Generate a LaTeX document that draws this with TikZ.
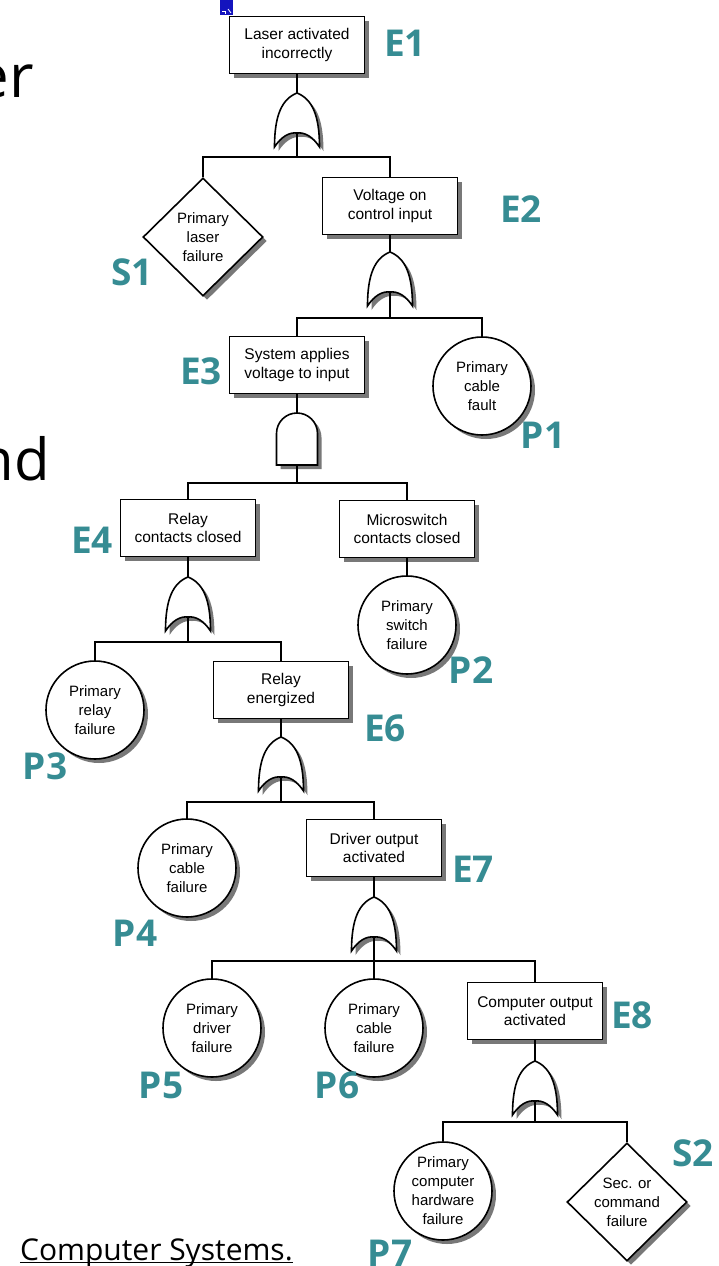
\documentclass[tikz,border=0pt]{standalone}
\usepackage{fontspec}
\setmainfont{Liberation Sans}
\newfontfamily\slidefont{Open Sans}
\usetikzlibrary{shapes.geometric,shadows}
\definecolor{tagteal}{RGB}{54,140,147}
\definecolor{iconblue}{RGB}{20,20,190}

\tikzset{
  castshadow/.style={drop shadow={shadow xshift=4pt,shadow yshift=-4pt,fill=black!75,opacity=0.7}},
  event/.style={draw,line width=1.6pt,fill=white,minimum width=135pt,minimum height=57pt,
    inner sep=2pt,align=center,font=\fontsize{15.5}{18.5}\selectfont,castshadow},
  basic/.style={circle,draw,line width=1.6pt,fill=white,minimum size=98pt,inner sep=0pt,
    align=center,font=\fontsize{15}{19}\selectfont,castshadow},
  undev/.style={diamond,draw,line width=1.6pt,fill=white,minimum width=120pt,minimum height=118pt,
    inner sep=0pt,align=center,font=\fontsize{15}{19}\selectfont,castshadow},
  tag/.style={text=tagteal,font=\slidefont\bfseries\fontsize{37}{37}\selectfont,inner sep=0pt},
  slide/.style={anchor=base east,inner sep=0pt,font=\slidefont\fontsize{#1}{#1}\selectfont},
  wire/.style={line width=1.5pt},
  orgate/.pic={
    \path[fill=black!75,opacity=0.7,shift={(4pt,-4pt)}]
      (0,0) .. controls (15,6) and (22.5,22) .. (22.5,54)
      .. controls (16,44) and (8,39) .. (0,40)
      .. controls (-8,39) and (-16,44) .. (-22.5,54)
      .. controls (-22.5,22) and (-15,6) .. (0,0) -- cycle;
    \draw[line width=1.6pt,fill=white]
      (0,0) .. controls (15,6) and (22.5,22) .. (22.5,54)
      .. controls (16,44) and (8,39) .. (0,40)
      .. controls (-8,39) and (-16,44) .. (-22.5,54)
      .. controls (-22.5,22) and (-15,6) .. (0,0) -- cycle;
    \coordinate (-top) at (0,0);
    \coordinate (-bot) at (0,40);
  },
  andgate/.pic={
    \path[fill=black!75,opacity=0.7,shift={(4pt,-4pt)}]
      (-20.5,52) -- (-20.5,20.5) arc[start angle=180,end angle=0,radius=20.5pt] -- (20.5,52) -- cycle;
    \draw[line width=1.6pt,fill=white]
      (-20.5,52) -- (-20.5,20.5) arc[start angle=180,end angle=0,radius=20.5pt] -- (20.5,52) -- cycle;
    \coordinate (-top) at (0,0);
    \coordinate (-bot) at (0,52);
  }
}

\begin{document}
\begin{tikzpicture}[x=1pt,y=-1pt]
\useasboundingbox (0,0) rectangle (718,1266);
\clip (0,0) rectangle (718,1266);
\fill[white] (0,0) rectangle (718,1266);

% slide text around the tree
\node[slide=60] (w1) at (34,97) {er};
\node[slide=58] (w2) at (50,480) {nd};
\node[slide=30] (cite) at (293,1260) {Computer Systems.};
\draw[line width=1.3pt] ([yshift=-2.5pt]cite.base west) -- ([yshift=-2.5pt]cite.base east);

% small icon above the top event
\fill[iconblue] (220,0) rectangle (233,15);
\draw[white,line width=0.8pt] (222,11) -- (225,11) -- (225,14);
\draw[white,line width=0.8pt] (228,9) -- (231,13);

% events
\node[event] (e1) at (297,45) {Laser activated\\incorrectly};
\node[event] (e2) at (390,206) {Voltage on\\control input};
\node[event] (e3) at (297,365) {System applies\\voltage to input};
\node[event] (e4) at (188,528) {Relay\\contacts closed};
\node[event] (m)  at (407,529) {Microswitch\\contacts closed};
\node[event] (e6) at (281,690) {Relay\\energized};
\node[event] (e7) at (374,848) {Driver output\\activated};
\node[event] (e8) at (535,1011) {Computer output\\activated};

% basic and undeveloped events
\node[undev] (s1) at (203,237) {Primary\\laser\\failure};
\node[basic] (p1) at (482,386) {Primary\\cable\\fault};
\node[basic] (p2) at (407,625) {Primary\\switch\\failure};
\node[basic] (p3) at (95,710)  {Primary\\relay\\failure};
\node[basic] (p4) at (187,868) {Primary\\cable\\failure};
\node[basic] (p5) at (212,1028) {Primary\\driver\\failure};
\node[basic] (p6) at (374,1028) {Primary\\cable\\failure};
\node[basic] (p7) at (443,1191) {Primary\\computer\\hardware\\failure};
\node[undev] (s2) at (627,1202) {Sec. or\\command\\failure};

% gates
\pic (g1) at (297,93)   {orgate};
\pic (g2) at (390,252)  {orgate};
\pic (g3) at (297,413)  {andgate};
\pic (g4) at (188,577)  {orgate};
\pic (g5) at (281,737)  {orgate};
\pic (g6) at (374,897)  {orgate};
\pic (g7) at (535,1061) {orgate};

% branch junctions
\coordinate (j1) at (297,157);
\coordinate (j2) at (390,318);
\coordinate (j3) at (297,483);
\coordinate (j4) at (188,642);
\coordinate (j5) at (281,802);
\coordinate (j6) at (374,961);
\coordinate (j7) at (535,1122);

% connectors
\draw[wire] (e1) -- (g1-top);
\draw[wire] (g1-bot) -- (j1) -| (s1);
\draw[wire] (j1) -| (e2);
\draw[wire] (e2) -- (g2-top);
\draw[wire] (g2-bot) -- (j2) -| (e3);
\draw[wire] (j2) -| (p1);
\draw[wire] (e3) -- (g3-top);
\draw[wire] (g3-bot) -- (j3) -| (e4);
\draw[wire] (j3) -| (m);
\draw[wire] (m) -- (p2);
\draw[wire] (e4) -- (g4-top);
\draw[wire] (g4-bot) -- (j4) -| (p3);
\draw[wire] (j4) -| (e6);
\draw[wire] (e6) -- (g5-top);
\draw[wire] (g5-bot) -- (j5) -| (p4);
\draw[wire] (j5) -| (e7);
\draw[wire] (e7) -- (g6-top);
\draw[wire] (g6-bot) -- (j6) -| (p5);
\draw[wire] (j6) -- (p6);
\draw[wire] (j6) -| (e8);
\draw[wire] (e8) -- (g7-top);
\draw[wire] (g7-bot) -- (j7) -| (p7);
\draw[wire] (j7) -| (s2);

% event tags
\node[tag] (lE1) at (405,43)   {E1};
\node[tag] (lE2) at (521,209)  {E2};
\node[tag] (lS1) at (132,272)  {S1};
\node[tag] (lE3) at (201,371)  {E3};
\node[tag] (lP1) at (543,435)  {P1};
\node[tag] (lE4) at (92,540)   {E4};
\node[tag] (lP2) at (471,670)  {P2};
\node[tag] (lP3) at (45,766)   {P3};
\node[tag] (lE6) at (385,728)  {E6};
\node[tag] (lE7) at (473,869)  {E7};
\node[tag] (lP4) at (135,933)  {P4};
\node[tag] (lP5) at (161,1085) {P5};
\node[tag] (lP6) at (337,1085) {P6};
\node[tag] (lE8) at (632,1015) {E8};
\node[tag] (lS2) at (693,1153) {S2};
\node[tag] (lP7) at (390,1253) {P7};
\end{tikzpicture}
\end{document}
